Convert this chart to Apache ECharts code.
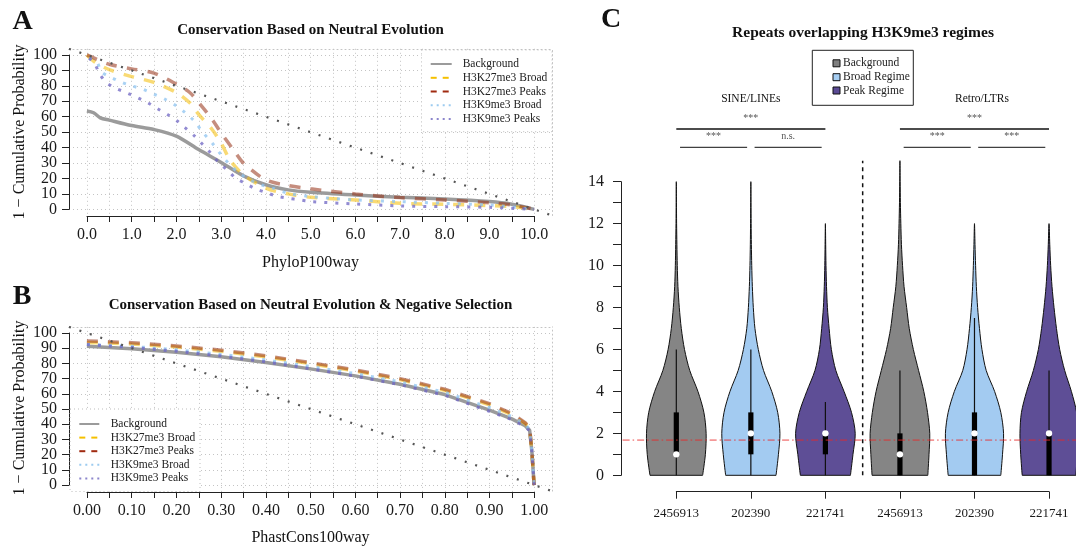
<!DOCTYPE html>
<html><head><meta charset="utf-8">
<script src="https://cdn.jsdelivr.net/npm/echarts@6/dist/echarts.min.js"></script>
<style>html,body{margin:0;padding:0;background:#fff}#c{width:1076px;height:550px}</style>
</head><body><div id="c"></div>
<script>
// ---------------- DATA ----------------
// Panel A (PhyloP100way)
const aBgX   = [0,0.15,0.3,0.5,1,1.5,2,2.5,3,3.5,4,4.5,5,6,7,8,9,9.5,10];
const aBgY   = [63.7,62.6,59.3,57.8,54.3,51.7,47.4,38.7,30.4,21.7,15.9,12.6,11.1,9.3,7.8,6.7,5.0,3.3,0];
const aK27BX = [0,0.2,0.5,1,1.5,2,2.3,2.5,2.8,3,3.2,3.5,4,4.5,5,6,7,8,9,9.5,10];
const aK27BY = [100,95,90.5,86,82.2,75.7,69,61.5,51.7,43,32,22.4,13.7,10,7.8,6.1,3.9,3.3,2.4,1.7,0];
const aK27PX = [0,0.2,0.5,1,1.5,2,2.3,2.5,2.8,3,3.3,3.5,4,4.5,5,6,7,8,9,9.5,10];
const aK27PY = [100,97.5,94,91,88.3,81.1,75.7,69.1,58.3,49.6,37.6,30,19.1,15.4,13.3,10,7.6,6.1,4.3,2.8,0];
const aK9BX  = [0.05,0.22,0.33,0.54,0.77,1,1.25,1.5,1.75,2,2.2,2.4,2.6,2.8,3,3.2,3.4,3.65,3.9,4.15,4.5,5,6,7,8,9,10];
const aK9BY  = [98,95.6,89,85.5,82.4,80,77.8,74.6,71.3,67,62.6,57.2,49.6,43,35.4,28.9,23.5,19.1,15.9,13.7,10.4,8.3,6.1,5,3.9,2.8,0];
const aK9PX  = [0.05,0.18,0.28,0.43,0.65,0.89,1.13,1.36,1.58,1.8,2.02,2.2,2.41,2.59,2.77,2.94,3.13,3.33,3.53,3.77,4,4.27,4.5,4.76,5,6,7,8,9,10];
const aK9PY  = [98,94,88,82.2,78.4,75.5,72.4,69.1,65.2,61.5,57.2,52.8,47.4,42,36.5,30.5,25.7,20.2,17,13.3,10.9,8.3,7.2,6.1,5,3.5,2.2,1.7,1.3,0];
const aUniform = [[-0.4,104],[10.4,-4]];

// Panel B (PhastCons100way)
const bX     = [0,0.1,0.2,0.3,0.4,0.5,0.6,0.7,0.8,0.9,0.95,0.98,0.99,0.995,1.0];
const bBgY   = [91.3,89.6,87.3,84.3,80.6,76.4,71.8,66.3,59.5,49.2,43.5,39,36,22,0];
const bK27BY = [93.8,92.8,90.8,88,84.3,79.8,75,69.3,62.3,52.8,46.3,40.5,37,22,0];
const bK27PY = [94.8,93.6,91.5,88.7,85,80.5,75.7,70,63,53.5,47,41,37.5,22,0];
const bK9BY  = [92.5,91.2,89,86,82.3,78,73.3,67.8,61,51,45,40,36.5,22,0];
const bK9PY  = [92.4,90.5,88,84.8,81,76.5,71.6,66,59,48.5,43,38.5,35.5,22,0];
const bUniform = [[-0.04,104],[1.04,-4]];

const seriesNames = ['Background','H3K27me3 Broad','H3K27me3 Peaks','H3K9me3 Broad','H3K9me3 Peaks'];

// Panel C (violins)
const cCategories = ['2456913','202390','221741','2456913','202390','221741'];
const cPositions  = [1,2,3,4,5,6];
const cLegend     = ['Background','Broad Regime','Peak Regime'];
// half width (fraction of category spacing) at y = 0,1,2,... up to the top of each violin
const cHalfWidth = [
  [0.353,0.39,0.40,0.37,0.29,0.18,0.11,0.067,0.04,0.022,0.013,0.008,0.004,0.002,0],
  [0.338,0.37,0.39,0.36,0.28,0.17,0.10,0.055,0.033,0.02,0.012,0.007,0.004,0.002,0],
  [0.336,0.37,0.40,0.35,0.25,0.14,0.08,0.05,0.027,0.015,0.008,0.004,0],
  [0.374,0.39,0.40,0.37,0.32,0.25,0.18,0.125,0.09,0.055,0.035,0.02,0.012,0.006,0.003,0],
  [0.353,0.376,0.39,0.353,0.27,0.157,0.10,0.067,0.042,0.025,0.015,0.007,0],
  [0.36,0.38,0.39,0.37,0.30,0.21,0.143,0.10,0.067,0.04,0.022,0.01,0]
];
const cWhiskerLo = [0,0,0,0,0,0];
const cWhiskerHi = [6,6,3.5,5,7.5,5];
const cQ1        = [1,1,1,0,0,0];
const cQ3        = [3,3,2,2,3,2];
const cMedian    = [1,2,2,1,2,2];
const cRefLevel  = 1.68;
const cSeparator = 3.5;
const cGroupLabels = ['SINE/LINEs','Retro/LTRs'];
const cGroupAt     = [2, 5.1];
const sigFrom  = [1,1,2,4,4,5];
const sigTo    = [3,2,3,6,5,6];
const sigRow   = [0,1,1,0,1,1];
const sigLabel = ['***','***','n.s.','***','***','***'];

// ---------------- STYLE ----------------
const FONT = '"Liberation Serif","DejaVu Serif",serif';
const lineColors  = ['#9b9b9b','rgba(246,196,30,0.62)','rgba(150,48,20,0.55)','rgba(140,195,240,0.75)','rgba(110,100,195,0.75)'];
const legendColors= ['#9b9b9b','#F5C000','#A02A10','#9CCBF0','#8C86CC'];
const lineDashes  = ['solid',[11,10],[11,10],[3,8],[3,8]];
const legendDashes= [null,[6,6],[6,6],[2,4],[2,4]];
const lineWidths  = [3.5,3.5,3.5,3,3];
const violinFill  = ['#858585','#A3CBF1','#5E4E96','#858585','#A3CBF1','#5E4E96'];
const legendFill  = ['#7F7F7F','#A6CEF3','#5A4A94'];
const gridDot = {type:[1,3], color:'#c4c4c4', width:1};

const pairs = (x,y) => x.map((v,i)=>[v,y[i]]);

function lineSeries(name, idx, data, axis){
  return {type:'line', name:name, xAxisIndex:axis, yAxisIndex:axis, data:data,
    symbol:'none', smooth: axis===0 ? 0.3 : false, silent:true, z:2+idx,
    lineStyle:{color:lineColors[idx], width:lineWidths[idx], type:lineDashes[idx], cap:'butt'}};
}
function uniformSeries(data, axis){
  return {type:'line', xAxisIndex:axis, yAxisIndex:axis, data:data, symbol:'none', silent:true, z:10,
    lineStyle:{color:'#555', width:2.2, type:[2,9]}};
}

const aData = [pairs(aBgX,aBgY),pairs(aK27BX,aK27BY),pairs(aK27PX,aK27PY),pairs(aK9BX,aK9BY),pairs(aK9PX,aK9PY)];
const bData = [pairs(bX,bBgY),pairs(bX,bK27BY),pairs(bX,bK27PY),pairs(bX,bK9BY),pairs(bX,bK9PY)];

const axisBlack = {show:true, onZero:false, lineStyle:{color:'#222', width:1}};
const noAxis = (g) => ({gridIndex:g, type:'value', show:false, min:0, max:1});
const boxAxisX = (g,min,max) => ({gridIndex:g, type:'value', min:min, max:max, position:'top',
   axisLine:{show:true,onZero:false,lineStyle:gridDot}, axisTick:{show:false}, axisLabel:{show:false}, splitLine:{show:false}});
const boxAxisY = (g,min,max) => ({gridIndex:g, type:'value', min:min, max:max, position:'right',
   axisLine:{show:true,onZero:false,lineStyle:gridDot}, axisTick:{show:false}, axisLabel:{show:false}, splitLine:{show:false}});
const labelStyle = {fontFamily:FONT, fontSize:16, color:'#1a1a1a', showMinLabel:true, showMaxLabel:true};
// label-only axis (range padded by one step so that 0 and 100 are not end labels)
const probLabelAxis = (g) => ({gridIndex:g, type:'value', min:-10, max:110, interval:10, position:'left',
   axisLine:{show:false}, axisTick:{show:false}, splitLine:{show:false},
   axisLabel:{margin:12, fontFamily:FONT, fontSize:16, color:'#1a1a1a', showMinLabel:false, showMaxLabel:false,
     formatter:v=>(v<0||v>100)?'':String(v)}});

const option = {
  animation:false,
  backgroundColor:'#fff',
  textStyle:{fontFamily:FONT},
  grid:[
    {left:69, top:48.8, width:483, height:166.7},
    {left:87, top:48.8, width:447.3, height:167.2},
    {left:69, top:55, width:483, height:154.3},
    {left:69, top:326.9, width:483, height:164.2},
    {left:87, top:326.9, width:447.3, height:165.1},
    {left:69, top:333, width:483, height:152},
    {left:620.4, top:160.7, width:465.9, height:314.6},
    {left:621, top:181.7, width:20, height:293.6},
    {left:676.3, top:400, width:372.7, height:91.7},
    {left:69, top:55-15.43, width:10, height:154.3*1.2},
    {left:69, top:333-15.2, width:10, height:152*1.2}
  ].map(g=>Object.assign(g,{containLabel:false, outerBoundsMode:'none'})),
  xAxis:[
    boxAxisX(0,-0.4,10.4),
    {gridIndex:1, type:'value', min:0, max:10, interval:0.5, position:'bottom', axisLine:axisBlack,
     axisTick:{show:true,length:6,lineStyle:{color:'#222'}},
     axisLabel:Object.assign({margin:11,
       formatter:v=>Math.abs(v-Math.round(v))<1e-6 ? v.toFixed(1) : ''}, labelStyle),
     splitLine:{show:true,lineStyle:gridDot}},
    noAxis(2),
    boxAxisX(3,-0.04,1.04),
    {gridIndex:4, type:'value', min:0, max:1, interval:0.05, position:'bottom', axisLine:axisBlack,
     axisTick:{show:true,length:6,lineStyle:{color:'#222'}},
     axisLabel:Object.assign({margin:11,
       formatter:v=>{const h=Math.round(v*100); return h%10===0 ? (h/100).toFixed(2) : '';}}, labelStyle),
     splitLine:{show:true,lineStyle:gridDot}},
    noAxis(5),
    {gridIndex:6, type:'value', show:false, min:0.25, max:6.5},
    noAxis(7),
    {gridIndex:8, type:'value', min:1, max:6, interval:1, position:'bottom', axisLine:axisBlack,
     axisTick:{show:true,length:7,lineStyle:{color:'#222'}},
     axisLabel:{margin:15, fontFamily:FONT, fontSize:13, color:'#1a1a1a', showMinLabel:true, showMaxLabel:true,
       formatter:v=>cCategories[Math.round(v)-1] || ''},
     splitLine:{show:false}},
    noAxis(9),
    noAxis(10)
  ],
  yAxis:[
    boxAxisY(0,-4,104),
    noAxis(1),
    {gridIndex:2, type:'value', min:0, max:100, interval:10, position:'left', axisLine:axisBlack,
     axisTick:{show:true,length:7,lineStyle:{color:'#222'}},
     axisLabel:{show:false}, splitLine:{show:true,lineStyle:gridDot}},
    boxAxisY(3,-4,104),
    noAxis(4),
    {gridIndex:5, type:'value', min:0, max:100, interval:10, position:'left', axisLine:axisBlack,
     axisTick:{show:true,length:7,lineStyle:{color:'#222'}},
     axisLabel:{show:false}, splitLine:{show:true,lineStyle:gridDot}},
    {gridIndex:6, type:'value', show:false, min:0, max:15},
    {gridIndex:7, type:'value', min:0, max:14, interval:1, position:'left', axisLine:axisBlack,
     axisTick:{show:true,length:8,lineStyle:{color:'#222'}},
     axisLabel:Object.assign({margin:17, formatter:v=>v%2===0?String(v):''}, labelStyle),
     splitLine:{show:false}},
    noAxis(8),
    probLabelAxis(9),
    probLabelAxis(10)
  ],
  series:[]
};

seriesNames.forEach((n,i)=>option.series.push(lineSeries(n,i,aData[i],0)));
option.series.push(uniformSeries(aUniform,0));
seriesNames.forEach((n,i)=>option.series.push(lineSeries(n,i,bData[i],3)));
option.series.push(uniformSeries(bUniform,3));

option.series.push({
  type:'custom', xAxisIndex:6, yAxisIndex:6, silent:true, z:2,
  data: cPositions.map((x,i)=>[x, cHalfWidth[i].length-1]),
  renderItem:function(params, api){
    const i = params.dataIndex, cx = cPositions[i], w = cHalfWidth[i], n = w.length;
    const pts = [];
    for (let k=0;k<n;k++) pts.push(api.coord([cx + w[k], k]));
    for (let k=n-2;k>=0;k--) pts.push(api.coord([cx - w[k], k]));
    const c = (y)=>api.coord([cx,y]);
    const base = c(0), q1 = c(cQ1[i]), q3 = c(cQ3[i]), md = c(cMedian[i]);
    return {type:'group', children:[
      {type:'polyline', shape:{points:pts, smooth:0.3}, style:{fill:violinFill[i], stroke:'#111', lineWidth:1}},
      {type:'line', shape:{x1:pts[0][0], y1:pts[0][1], x2:pts[pts.length-1][0], y2:pts[pts.length-1][1]}, style:{stroke:'#111', lineWidth:1}},
      {type:'line', shape:{x1:base[0], y1:c(cWhiskerLo[i])[1], x2:base[0], y2:c(cWhiskerHi[i])[1]}, style:{stroke:'#111', lineWidth:1.2}},
      {type:'rect', shape:{x:base[0]-2.6, y:q3[1], width:5.2, height:q1[1]-q3[1]}, style:{fill:'#000'}},
      {type:'circle', shape:{cx:md[0], cy:md[1], r:3.2}, style:{fill:'#fff'}}
    ]};
  }
});
option.series.push({type:'line', xAxisIndex:6, yAxisIndex:6, silent:true, symbol:'none', z:5,
  data:[[0.28,cRefLevel],[6.5,cRefLevel]], lineStyle:{color:'rgba(232,40,40,0.85)', width:1, type:[7,3,1.5,3]}});
option.series.push({type:'line', xAxisIndex:6, yAxisIndex:6, silent:true, symbol:'none', z:5,
  data:[[cSeparator,0],[cSeparator,15]], lineStyle:{color:'#111', width:1.5, type:[4,4]}});

const chart = echarts.init(document.getElementById('c'), null, {renderer:'canvas'});
chart.setOption(option);

// ---------------- ANNOTATIONS ----------------
const g = [];
const txt = (s,x,y,o)=>g.push({type:'text', x:x, y:y, silent:true, z:100, rotation:(o&&o.rot)||0,
  style:Object.assign({text:s, fontFamily:FONT, fontSize:16, fill:'#111', textAlign:'center', textVerticalAlign:'middle'}, (o&&o.style)||{})});
const bold = (sz)=>({style:{fontWeight:'bold', fontSize:sz}});

txt('A',22.5,22,bold(28)); txt('B',22,296.5,bold(28)); txt('C',611,20,bold(28));
txt('Conservation Based on Neutral Evolution',310.5,30,bold(15));
txt('Conservation Based on Neutral Evolution & Negative Selection',310.5,305,bold(15));
txt('Repeats overlapping H3K9me3 regimes',863,33,bold(15.5));
txt('1 \u2212 Cumulative Probability',19.5,132,{rot:Math.PI/2});
txt('1 \u2212 Cumulative Probability',19.5,408,{rot:Math.PI/2});
txt('PhyloP100way',310.5,263);
txt('PhastCons100way',310.5,538);

function legendAB(x,y,w,h,rows,lx1,lx2,tx){
  g.push({type:'rect', z:50, silent:true, shape:{x:x,y:y,width:w,height:h},
    style:{fill:'#fff', stroke:'#bdbdbd', lineWidth:1, lineDash:[1,3]}});
  seriesNames.forEach((n,i)=>{
    g.push({type:'line', z:51, silent:true, shape:{x1:lx1,y1:rows[i],x2:lx2,y2:rows[i]},
      style:{stroke:legendColors[i], lineWidth:2, lineDash:legendDashes[i]}});
    g.push({type:'text', z:51, silent:true, x:tx, y:rows[i],
      style:{text:n, fontFamily:FONT, fontSize:11.5, fill:'#222', textAlign:'left', textVerticalAlign:'middle'}});
  });
}
legendAB(421.5,50,130.5,81.7,[64,77.8,91.5,105.2,119],430.7,451.7,462.7);
legendAB(70,409,130,82.5,[424,437.6,451.2,464.8,478.4],79.3,99.3,110.7);

// legend C
g.push({type:'rect', z:50, silent:true, shape:{x:812.3,y:50.3,width:101,height:55}, style:{fill:'#fff', stroke:'#222', lineWidth:1}});
[63.3,77.2,90.5].forEach((yy,i)=>{
  g.push({type:'rect', z:51, silent:true, shape:{x:833,y:yy-3.5,width:7,height:7}, style:{fill:legendFill[i], stroke:'#111', lineWidth:1}});
  g.push({type:'text', z:51, silent:true, x:843, y:yy, style:{text:cLegend[i], fontFamily:FONT, fontSize:11.5, fill:'#222', textAlign:'left', textVerticalAlign:'middle'}});
});

const xp = v => chart.convertToPixel({xAxisIndex:6}, v);
cGroupLabels.forEach((s,i)=>txt(s, xp(cGroupAt[i]), 99, {style:{fontSize:11.5}}));
const rowY = [129, 147.3];
sigFrom.forEach((f,i)=>{
  const r = sigRow[i];
  const x1 = r===0 ? xp(f) : xp(f+0.05), x2 = r===0 ? xp(sigTo[i]) : xp(sigTo[i]-0.05);
  g.push({type:'line', z:50, silent:true, shape:{x1:x1,y1:rowY[r],x2:x2,y2:rowY[r]}, style:{stroke:'#111', lineWidth:r===0?1.3:1}});
  txt(sigLabel[i], (x1+x2)/2, rowY[r]-10.5, {style:{fontSize:10, fill:'#555'}});
});

chart.setOption({graphic:g});
</script></body></html>
